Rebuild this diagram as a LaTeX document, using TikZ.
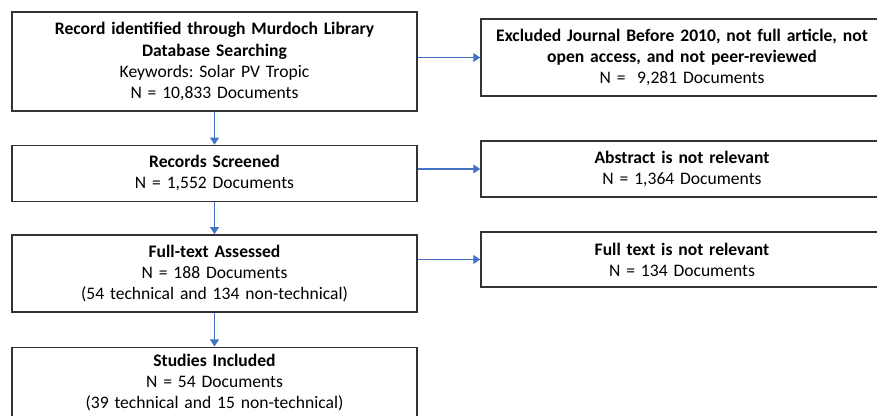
\documentclass[tikz,border=0pt]{standalone}
\usepackage{fontspec}
\setmainfont{Carlito}
\frenchspacing
\usetikzlibrary{positioning,arrows.meta}

\tikzset{
  stagebox/.style={draw=black!80, line width=0.8pt, align=center, text width=7.9cm,
    minimum width=8.1cm, inner sep=2pt, font=\fontsize{10}{12}\selectfont},
  exclbox/.style={stagebox, text width=7.9cm, minimum width=8cm},
  flow/.style={draw={rgb,255:red,68;green,114;blue,196}, line width=0.8pt,
    -{Triangle[width=5pt,length=4pt]}}
}

\begin{document}
\begin{tikzpicture}[node distance=0.66cm]
  \useasboundingbox (0,0) rectangle (17.54,-8.32);

  % identification, screening, eligibility, inclusion
  \node[stagebox, minimum height=1.98cm] (ident) at (4.29,-1.23)
    {\textbf{Record identified through Murdoch Library}\\
     \textbf{Database Searching}\\
     Keywords: Solar PV Tropic\\
     N = 10,833 Documents};
  \node[stagebox, minimum height=1.12cm, below=of ident] (screen)
    {\textbf{Records Screened}\\ N = 1,552 Documents};
  \node[stagebox, minimum height=1.54cm, below=0.64cm of screen] (assess)
    {\textbf{Full-text Assessed}\\ N = 188 Documents\\ (54 technical and 134 non-technical)};
  \node[stagebox, minimum height=1.4cm, below=0.68cm of assess] (incl)
    {\textbf{Studies Included}\\ N = 54 Documents\\ (39 technical and 15 non-technical)};

  % excluded records
  \node[exclbox, minimum height=1.54cm] (excl) at (13.64,-1.15)
    {\textbf{Excluded Journal Before 2010, not full article, not}\\
     \textbf{open access, and not peer-reviewed}\\
     N =\ \ 9,281 Documents};
  \node[exclbox, minimum height=1.12cm] (abstr) at (13.64,-3.38)
    {\textbf{Abstract is not relevant}\\ N = 1,364 Documents};
  \node[exclbox, minimum height=1.1cm] (fulltxt) at (13.64,-5.19)
    {\textbf{Full text is not relevant}\\ N = 134 Documents};

  \draw[flow] (ident) -- (screen);
  \draw[flow] (screen) -- (assess);
  \draw[flow] (assess) -- (incl);

  \draw[flow] (excl.west -| ident.east) -- (excl.west);
  \draw[flow] (abstr.west -| screen.east) -- (abstr.west);
  \draw[flow] (fulltxt.west -| assess.east) -- (fulltxt.west);
\end{tikzpicture}
\end{document}
